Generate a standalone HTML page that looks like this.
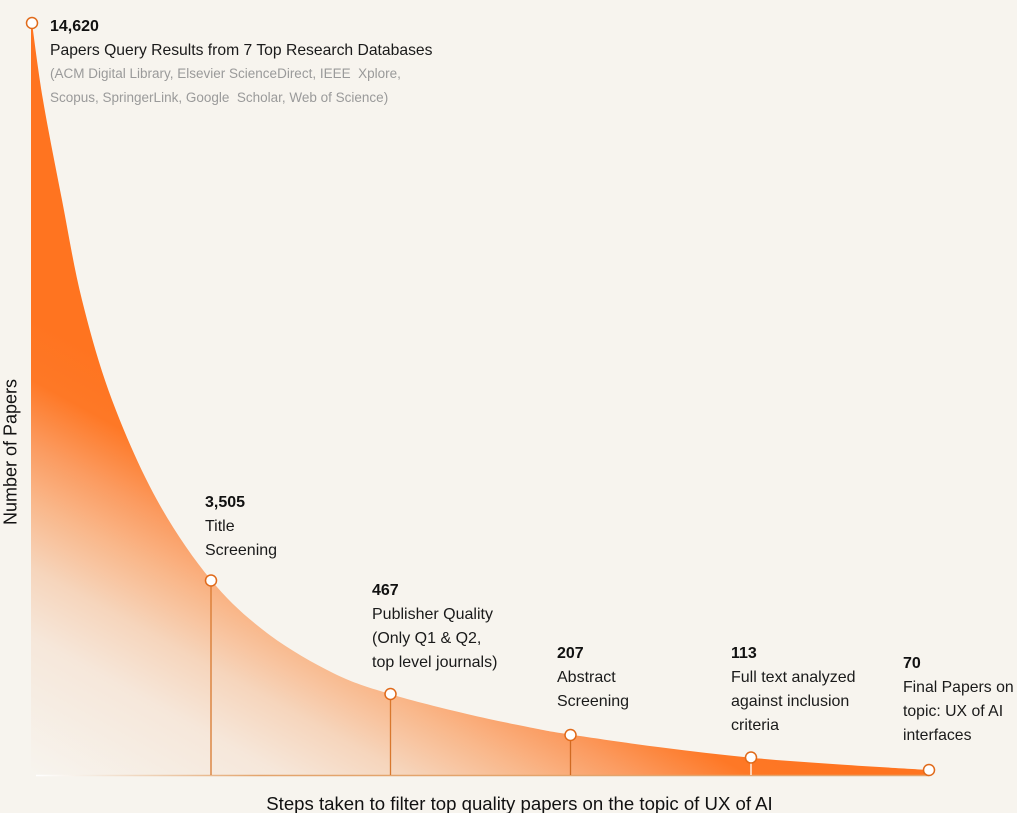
<!DOCTYPE html>
<html>
<head>
<meta charset="utf-8">
<style>
  html,body{margin:0;padding:0;background:#F7F4EE;}
  body{width:1017px;height:813px;overflow:hidden;}
  svg{display:block;}
  text{font-family:"Liberation Sans", Arial, sans-serif;}
</style>
</head>
<body>
<svg width="1017" height="813" viewBox="0 0 1017 813" xmlns="http://www.w3.org/2000/svg">
  <defs>
    <linearGradient id="fillg" gradientUnits="userSpaceOnUse" x1="31" y1="775" x2="225.3" y2="421.8">
      <stop offset="0" stop-color="#F7F4EE"/>
      <stop offset="0.3" stop-color="#F6E7DA"/>
      <stop offset="0.45" stop-color="#F6D5BC"/>
      <stop offset="0.6" stop-color="#F9B78A"/>
      <stop offset="0.72" stop-color="#FB9B60"/>
      <stop offset="0.86" stop-color="#FE7826"/>
      <stop offset="1" stop-color="#FF7420"/>
    </linearGradient>
    <linearGradient id="baseg" gradientUnits="userSpaceOnUse" x1="36" y1="0" x2="260" y2="0">
      <stop offset="0" stop-color="#FFFFFF"/>
      <stop offset="0.25" stop-color="#F5EBE0"/>
      <stop offset="1" stop-color="#E3A46C"/>
    </linearGradient>
  </defs>

  <rect x="0" y="0" width="1017" height="813" fill="#F7F4EE"/>

  <!-- area -->
  <path id="area" fill="url(#fillg)" d="M31,775 L31,23 L32,23
    L43,100 L62,200 L82,300 L112,400 L157,500 L211,580 L267,633 L333,673 L390,694 L467,714 L533,728 L570,734.5
    L660,747.3 L751,757.7 L840,764.5 L929,770 L929,775 Z"/>

  <!-- baseline -->
  <line x1="36" y1="775.5" x2="929" y2="775.5" stroke="url(#baseg)" stroke-width="1.4"/>

  <!-- stems -->
  <g stroke-width="1.3">
    <line x1="211" y1="580" x2="211" y2="775" stroke="#D8782E"/>
    <line x1="390.5" y1="694" x2="390.5" y2="775" stroke="#D8782E"/>
    <line x1="570.5" y1="735" x2="570.5" y2="775" stroke="#D06A22"/>
    <line x1="751" y1="758" x2="751" y2="775" stroke="#FFFFFF"/>
  </g>

  <!-- dots -->
  <g fill="#FFFFFF" stroke="#E06A1A" stroke-width="1.5">
    <circle cx="32" cy="23" r="5.5"/>
    <circle cx="211" cy="580.5" r="5.5"/>
    <circle cx="390.5" cy="694" r="5.5"/>
    <circle cx="570.5" cy="735" r="5.5"/>
    <circle cx="751" cy="757.5" r="5.5"/>
    <circle cx="929" cy="770" r="5.5"/>
  </g>

  <!-- top annotation -->
  <text x="50" y="31" font-size="16" font-weight="bold" fill="#111">14,620</text>
  <text x="50" y="55" font-size="15.7" fill="#1a1a1a">Papers Query Results from 7 Top Research Databases</text>
  <text x="50" y="78" font-size="13.5" fill="#9a9a9a" xml:space="preserve">(ACM Digital Library, Elsevier ScienceDirect, IEEE  Xplore,</text>
  <text x="50" y="102" font-size="13.5" fill="#9a9a9a" xml:space="preserve">Scopus, SpringerLink, Google  Scholar, Web of Science)</text>

  <!-- 3505 -->
  <text x="205" y="507" font-size="16" font-weight="bold" fill="#111">3,505</text>
  <text x="205" y="531" font-size="16" fill="#1a1a1a">Title</text>
  <text x="205" y="555" font-size="16" fill="#1a1a1a">Screening</text>

  <!-- 467 -->
  <text x="372" y="595" font-size="16" font-weight="bold" fill="#111">467</text>
  <text x="372" y="619" font-size="16" fill="#1a1a1a">Publisher Quality</text>
  <text x="372" y="643" font-size="16" fill="#1a1a1a">(Only Q1 &amp; Q2,</text>
  <text x="372" y="667" font-size="16" fill="#1a1a1a">top level journals)</text>

  <!-- 207 -->
  <text x="557" y="658" font-size="16" font-weight="bold" fill="#111">207</text>
  <text x="557" y="682" font-size="16" fill="#1a1a1a">Abstract</text>
  <text x="557" y="706" font-size="16" fill="#1a1a1a">Screening</text>

  <!-- 113 -->
  <text x="731" y="658" font-size="16" font-weight="bold" fill="#111">113</text>
  <text x="731" y="682" font-size="16" fill="#1a1a1a">Full text analyzed</text>
  <text x="731" y="706" font-size="16" fill="#1a1a1a">against inclusion</text>
  <text x="731" y="730" font-size="16" fill="#1a1a1a">criteria</text>

  <!-- 70 -->
  <text x="903" y="668" font-size="16" font-weight="bold" fill="#111">70</text>
  <text x="903" y="692" font-size="15.8" fill="#1a1a1a">Final Papers on</text>
  <text x="903" y="716" font-size="15.8" fill="#1a1a1a">topic: UX of AI</text>
  <text x="903" y="740" font-size="15.8" fill="#1a1a1a">interfaces</text>

  <!-- axis titles -->
  <text transform="translate(16.5,452) rotate(-90)" text-anchor="middle" font-size="18" fill="#111">Number of Papers</text>
  <text x="519.5" y="810" text-anchor="middle" font-size="18.6" fill="#111">Steps taken to filter top quality papers on the topic of UX of AI</text>
</svg>
<script>
(function(){
  var p=[[32,23],[43,100],[62,200],[82,300],[112,400],[157,500],[211,580],[267,633],[333,673],[390,694],[467,714],[533,728],[570,734.5],[660,747.3],[751,757.7],[840,764.5],[929,770]];
  var d="M31,775 L31,23 L"+p[0][0]+","+p[0][1];
  for(var i=0;i<p.length-1;i++){
    var p0=p[i-1]||p[i], p1=p[i], p2=p[i+1], p3=p[i+2]||p[i+1];
    var c1x=p1[0]+(p2[0]-p0[0])/6, c1y=p1[1]+(p2[1]-p0[1])/6;
    var c2x=p2[0]-(p3[0]-p1[0])/6, c2y=p2[1]-(p3[1]-p1[1])/6;
    d+=" C"+c1x.toFixed(2)+","+c1y.toFixed(2)+" "+c2x.toFixed(2)+","+c2y.toFixed(2)+" "+p2[0]+","+p2[1];
  }
  d+=" L929,775 Z";
  document.getElementById("area").setAttribute("d",d);
})();
</script>
</body>
</html>
